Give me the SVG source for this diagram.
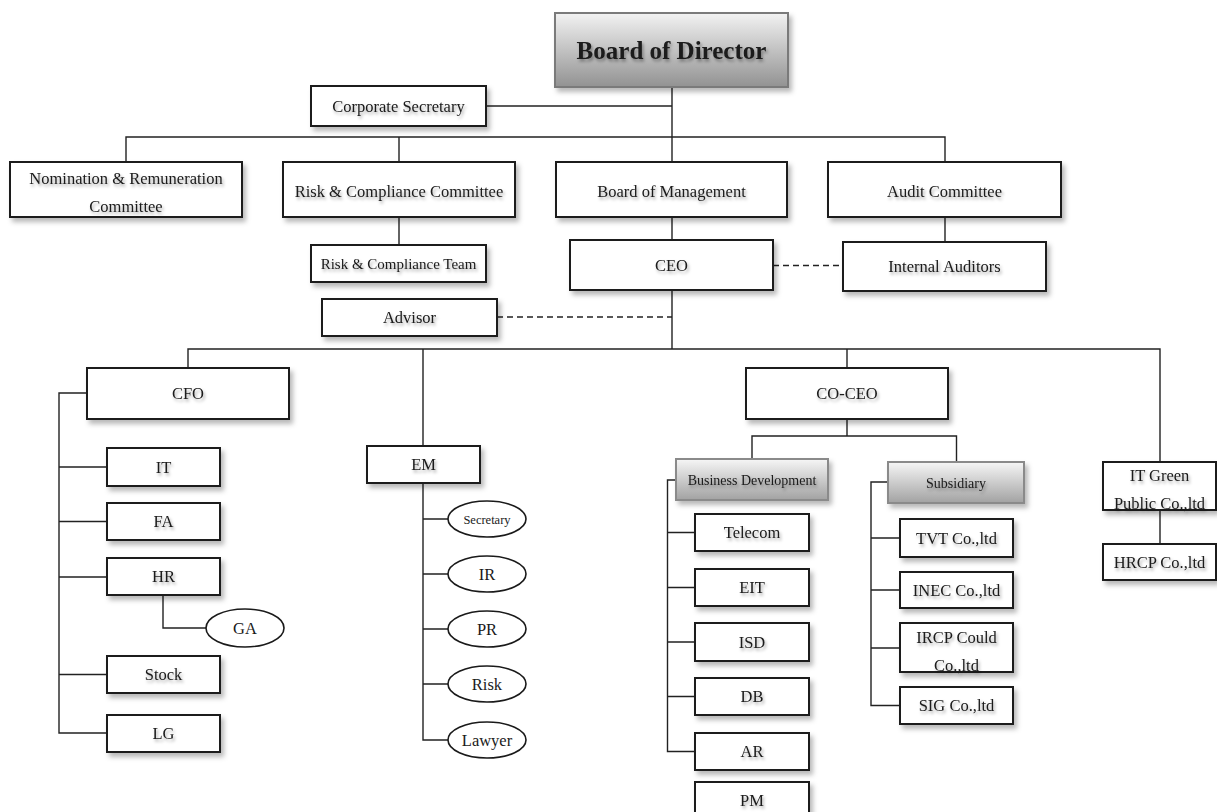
<svg xmlns="http://www.w3.org/2000/svg" width="1217" height="812" viewBox="0 0 1217 812">
<defs>
<linearGradient id="gBoard" x1="0" y1="0" x2="0" y2="1"><stop offset="0" stop-color="#f2f2f2"/><stop offset="1" stop-color="#929292"/></linearGradient>
<linearGradient id="gSub" x1="0" y1="0" x2="0" y2="1"><stop offset="0" stop-color="#f6f6f6"/><stop offset="1" stop-color="#a2a2a2"/></linearGradient>
<filter id="sh" x="-10%" y="-20%" width="130%" height="160%"><feDropShadow dx="3" dy="4" stdDeviation="2.5" flood-color="#000" flood-opacity="0.28"/></filter>
<filter id="tsh" x="-10%" y="-30%" width="130%" height="180%"><feDropShadow dx="1.5" dy="2.5" stdDeviation="1.5" flood-color="#000" flood-opacity="0.35"/></filter>
</defs>
<style>
.box{fill:#fff;stroke:#1a1a1a;stroke-width:2;filter:url(#sh)}
.gbox{fill:url(#gSub);stroke:#8a8a8a;stroke-width:2;filter:url(#sh)}
.ell{fill:#fff;stroke:#1a1a1a;stroke-width:1.6}
.t{font-family:"Liberation Serif","Times New Roman",serif;font-size:16.5px;fill:#1a1a1a;text-anchor:middle;filter:url(#tsh)}
.te{font-family:"Liberation Serif","Times New Roman",serif;font-size:16.5px;fill:#1a1a1a;text-anchor:middle}
.s15{font-size:15px}
.s14{font-size:14px}
.s12{font-size:12.5px}
.ln{fill:none;stroke:#222;stroke-width:1.4}
.dash{fill:none;stroke:#222;stroke-width:1.6;stroke-dasharray:6 4}
</style>
<rect width="1217" height="812" fill="#fff"/>
<g id="connectors">
<path class="ln" d="M672 87V349"/>
<path class="ln" d="M486 106H672"/>
<path class="ln" d="M126 162V137H945V162M399 137V162"/>
<path class="ln" d="M399 217V245"/>
<path class="ln" d="M945 217V242"/>
<path class="dash" d="M773 265.5H843"/>
<path class="dash" d="M497 317H672"/>
<path class="ln" d="M188 368V349H1160V462M423 349V446M847 349V368"/>
<path class="ln" d="M87 393H59V733H107M59 467H107M59 521.5H107M59 577H107M59 674.5H107"/>
<path class="ln" d="M163 595V628H206"/>
<path class="ln" d="M423 483V740H448M423 519H448M423 574H448M423 629H448M423 684H448"/>
<path class="ln" d="M847 419V436M752 459V436H956.5V462"/>
<path class="ln" d="M676 480H667.5V751.5H695M667.5 532.5H695M667.5 587.5H695M667.5 642H695M667.5 696.5H695"/>
<path class="ln" d="M888 482H871V705.5H900M871 538H900M871 590H900M871 648H900"/>
<path class="ln" d="M1160 510V544"/>
</g>
<g id="board"><rect x="555" y="13" width="233" height="74" fill="url(#gBoard)" stroke="#7a7a7a" stroke-width="2" filter="url(#sh)"/><text class="t" x="671.5" y="59" style="font-size:25px;font-weight:bold">Board of Director</text></g>
<g id="corp-sec"><rect class="box" x="311" y="86" width="175" height="40"/><text class="t" x="398.5" y="111.5">Corporate Secretary</text></g>
<g id="nomination"><rect class="box" x="10" y="162" width="232" height="55"/><text class="t" x="126" y="184">Nomination &amp; Remuneration</text><text class="t" x="126" y="212">Committee</text></g>
<g id="risk-committee"><rect class="box" x="283" y="162" width="232" height="55"/><text class="t" x="399" y="197">Risk &amp; Compliance Committee</text></g>
<g id="board-mgmt"><rect class="box" x="556" y="162" width="231" height="55"/><text class="t" x="671.5" y="197">Board of Management</text></g>
<g id="audit"><rect class="box" x="828" y="162" width="233" height="55"/><text class="t" x="944.5" y="197">Audit Committee</text></g>
<g id="risk-team"><rect class="box" x="311" y="245" width="175" height="37"/><text class="t s15" x="398.5" y="268.5">Risk &amp; Compliance Team</text></g>
<g id="advisor"><rect class="box" x="322" y="299" width="175" height="37"/><text class="t" x="409.5" y="323">Advisor</text></g>
<g id="ceo"><rect class="box" x="570" y="240" width="203" height="50"/><text class="t" x="671.5" y="270.5">CEO</text></g>
<g id="internal-auditors"><rect class="box" x="843" y="242" width="203" height="49"/><text class="t" x="944.5" y="271.5">Internal Auditors</text></g>
<g id="cfo"><rect class="box" x="87" y="368" width="202" height="51"/><text class="t" x="188" y="399">CFO</text></g>
<g id="it"><rect class="box" x="107" y="448" width="113" height="38"/><text class="t" x="163.5" y="472.5">IT</text></g>
<g id="fa"><rect class="box" x="107" y="503" width="113" height="37"/><text class="t" x="163.5" y="527">FA</text></g>
<g id="hr"><rect class="box" x="107" y="558" width="113" height="37"/><text class="t" x="163.5" y="582">HR</text></g>
<g id="ga"><ellipse class="ell" cx="245" cy="628" rx="39" ry="19"/><text class="te" x="245" y="633.5">GA</text></g>
<g id="stock"><rect class="box" x="107" y="656" width="113" height="37"/><text class="t" x="163.5" y="680">Stock</text></g>
<g id="lg"><rect class="box" x="107" y="715" width="113" height="37"/><text class="t" x="163.5" y="739">LG</text></g>
<g id="em"><rect class="box" x="367" y="446" width="113" height="37"/><text class="t" x="423.5" y="470">EM</text></g>
<g id="secretary"><ellipse class="ell" cx="487" cy="519" rx="39" ry="18"/><text class="te s12" x="487" y="523.5">Secretary</text></g>
<g id="ir"><ellipse class="ell" cx="487" cy="574" rx="39" ry="18"/><text class="te" x="487" y="579.5">IR</text></g>
<g id="pr"><ellipse class="ell" cx="487" cy="629" rx="39" ry="18"/><text class="te" x="487" y="634.5">PR</text></g>
<g id="risk"><ellipse class="ell" cx="487" cy="684" rx="39" ry="18"/><text class="te" x="487" y="689.5">Risk</text></g>
<g id="lawyer"><ellipse class="ell" cx="487" cy="740" rx="39" ry="18"/><text class="te" x="487" y="745.5">Lawyer</text></g>
<g id="co-ceo"><rect class="box" x="746" y="368" width="202" height="51"/><text class="t" x="847" y="399">CO-CEO</text></g>
<g id="business-dev"><rect class="gbox" x="676" y="459" width="152" height="41"/><text class="t s14" x="752" y="484.5">Business Development</text></g>
<g id="subsidiary"><rect class="gbox" x="888" y="462" width="136" height="41"/><text class="t s14" x="956" y="487.5">Subsidiary</text></g>
<g id="telecom"><rect class="box" x="695" y="514" width="114" height="37"/><text class="t" x="752" y="538">Telecom</text></g>
<g id="eit"><rect class="box" x="695" y="569" width="114" height="37"/><text class="t" x="752" y="593">EIT</text></g>
<g id="isd"><rect class="box" x="695" y="623" width="114" height="38"/><text class="t" x="752" y="647.5">ISD</text></g>
<g id="db"><rect class="box" x="695" y="678" width="114" height="37"/><text class="t" x="752" y="702">DB</text></g>
<g id="ar"><rect class="box" x="695" y="733" width="114" height="37"/><text class="t" x="752" y="757">AR</text></g>
<g id="pm"><rect class="box" x="695" y="782" width="114" height="37"/><text class="t" x="752" y="806">PM</text></g>
<g id="tvt"><rect class="box" x="900" y="519" width="113" height="38"/><text class="t" x="956.5" y="543.5">TVT Co.,ltd</text></g>
<g id="inec"><rect class="box" x="900" y="572" width="113" height="36"/><text class="t" x="956.5" y="595.5">INEC Co.,ltd</text></g>
<g id="ircp"><rect class="box" x="900" y="623" width="113" height="49"/><text class="t" x="956.5" y="642.5">IRCP Could</text><text class="t" x="956.5" y="670.5">Co.,ltd</text></g>
<g id="sig"><rect class="box" x="900" y="687" width="113" height="37"/><text class="t" x="956.5" y="711">SIG Co.,ltd</text></g>
<g id="it-green"><rect class="box" x="1103" y="462" width="113" height="48"/><text class="t" x="1159.5" y="480.5">IT Green</text><text class="t" x="1159.5" y="508.5">Public Co.,ltd</text></g>
<g id="hrcp"><rect class="box" x="1103" y="544" width="113" height="36"/><text class="t" x="1159.5" y="567.5">HRCP Co.,ltd</text></g>
</svg>
